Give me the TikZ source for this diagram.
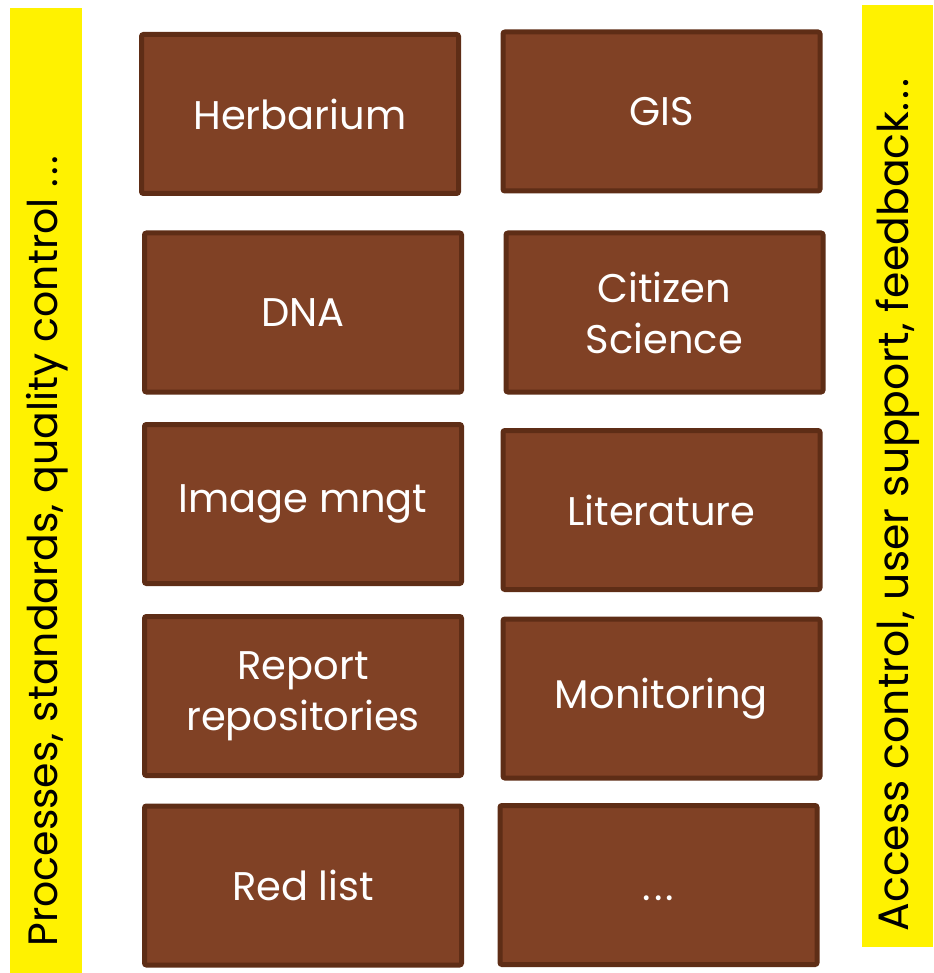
\documentclass[tikz,border=0pt]{standalone}
\usepackage{fontspec}
\setmainfont{Poppins}
\usepackage{xcolor}
\definecolor{boxfill}{RGB}{128,65,37}
\definecolor{boxline}{RGB}{94,45,22}
\newcommand\spdots{.\kern3pt.\kern3pt.}

\begin{document}
\begin{tikzpicture}[x=1pt, y=-1pt,
  box/.style = {draw=boxline, fill=boxfill, line width=5pt, rounded corners=2pt,
    minimum width=317pt, minimum height=159pt, text=white, align=center,
    font=\fontsize{40}{51}\selectfont},
  bar/.style = {fill=yellow, inner sep=0pt},
  side/.style = {rotate=90, font=\fontsize{41}{44}\selectfont}]
      \useasboundingbox (0,0) rectangle (933,973);
      \node[bar, minimum width=72pt, minimum height=965pt] (procbar) at (46,490.5) {};
      \node[bar, minimum width=71pt, minimum height=942pt] (accbar) at (897.5,476) {};
      \node[side] (proc) at (47,551) {Processes, standards, quality control \spdots};
      \node[side, font=\fontsize{42.5}{44}\selectfont] (acc) at (898,505) {Access control, user support, feedback\spdots};

      \node[box] (herb)    at (300,114)     {Herbarium};
      \node[box] (gis)     at (661.5,111.5) {GIS};
      \node[box] (dna)     at (303,312.5)   {DNA};
      \node[box] (citizen) at (664.5,312.5) {Citizen\\Science};
      \node[box] (image)   at (303,504)     {Image mngt};
      \node[box] (lit)     at (661.5,510)   {Literature};
      \node[box] (report)  at (303,696)     {Report\\repositories};
      \node[box] (monit)   at (661.5,698.5) {Monitoring};
      \node[box] (redlist) at (303,885.5)   {Red list};
      \node[box] (more)    at (658.5,885)   {\vphantom{Red list}\spdots};
\end{tikzpicture}
\end{document}
